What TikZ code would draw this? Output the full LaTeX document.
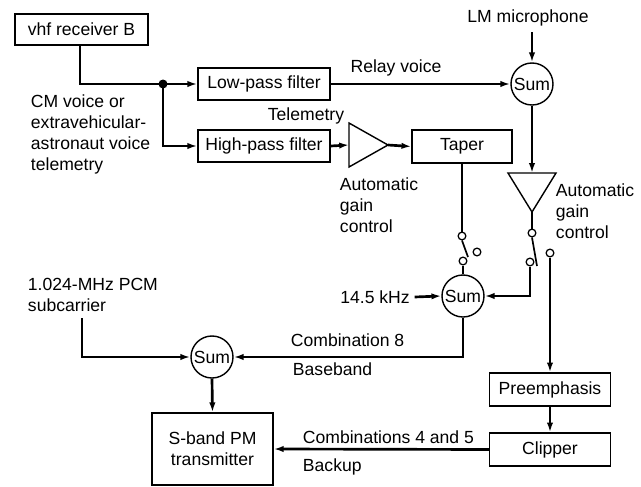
\documentclass[tikz,border=0pt]{standalone}
\usepackage{fontspec}
\setmainfont{Liberation Sans}
\usetikzlibrary{arrows.meta,calc}

\begin{document}
\begin{tikzpicture}[x=0.025cm,y=-0.025cm,font=\fontsize{12.5}{15}\selectfont,
  >={Latex[length=7pt,width=4.5pt]},
  block/.style={draw,line width=1pt,inner sep=0pt},
  sumnode/.style={draw,circle,line width=1pt,inner sep=0pt,minimum size=1.05cm},
  contact/.style={draw,circle,line width=0.9pt,fill=white,inner sep=0pt,minimum size=5.5pt},
  sig/.style={line width=1.9pt}]
  \useasboundingbox (0,0) rectangle (641,487);
  \node[block,minimum width=3.325cm,minimum height=0.78cm] (vhf) at (81.5,29.5) {vhf receiver B};
  \node[block,minimum width=3.3cm,minimum height=0.8cm] (low) at (264,84) {Low-pass filter};
  \node[block,minimum width=3.3cm,minimum height=0.8cm] (high) at (264,146) {High-pass filter};
  \node[block,minimum width=2.5cm,minimum height=0.82cm] (taper) at (462,146.5) {Taper};
  \node[block,minimum width=3.025cm,minimum height=0.82cm] (preemph) at (550,389.5) {Preemphasis};
  \node[block,minimum width=3.025cm,minimum height=0.82cm] (clipper) at (550,449.5) {Clipper};
  \node[block,minimum width=3.025cm,minimum height=1.8cm,align=center] (sband) at (212.5,449) {S-band PM\\transmitter};
  \node[sumnode] (sum1) at (532,84) {Sum};
  \node[sumnode] (sum2) at (463,296) {Sum};
  \node[sumnode] (sum3) at (212,357) {Sum};

  \fill (163,84) circle (4.5) coordinate (split);
  \coordinate (mic) at (532,32);
  \coordinate (pcm) at (82,318);

  % amplifiers
  \coordinate (amp1in) at (349,145);
  \coordinate (amp1out) at (388,145);
  \draw[line width=1pt] (amp1in) ++(0,-22) -- (amp1out) -- (349,167) -- cycle;
  \coordinate (amp2in) at (532,173);
  \coordinate (amp2out) at (532,212);
  \draw[line width=1pt] (amp2in) ++(-24,0) -- (amp2out) -- (556,173) -- cycle;

  % switches
  \node[contact] (swa1) at (462,236) {};
  \node[contact] (swa2) at (463,261) {};
  \node[contact] (swa3) at (477,252) {};
  \coordinate (bladea) at (468,257);
  \node[contact] (swb1) at (532,233) {};
  \node[contact] (swb2) at (530,262) {};
  \node[contact] (swb3) at (550,253) {};
  \coordinate (bladeb) at (537,266);
  \draw[line width=1.2pt] (swa1.south) -- (bladea);
  \draw[line width=1.2pt] (swb1.south) -- (bladeb);

  \draw[sig] (vhf.south -| 80,0) |- (split);
  \draw[sig,->] (split) -- (low.west);
  \draw[sig,->] (split) |- (high.west);
  \draw[sig,->] (low.east) -- (sum1.west);
  \draw[sig,->] (mic) -- (sum1.north);
  \draw[sig,->] (high.east) -- (amp1in);
  \draw[sig,->] (amp1out) -- (taper.west);
  \draw[sig,->] (sum1.south) -- (amp2in);
  \draw[sig] (amp2out) -- (swb1.north);
  \draw[sig] (taper.south) -- (swa1.north);
  \draw[sig] (swa2.south) -- (sum2.north);
  \draw[sig,->] (swb2.south) |- (sum2.east);
  \draw[sig,->] (swb3.south) -- (preemph.north);
  \draw[sig,->] (preemph.south) -- (clipper.north);
  \draw[sig,->] (clipper.west) -- (sband.east);
  \draw[sig,->] (sum2.south) |- (sum3.east);
  \draw[sig,->] (pcm) |- (sum3.west);
  \draw[sig,->] (sum3.south) -- (sband.north);

  \node (khz) at (375,297) {14.5 kHz};
  \draw[sig,->] (khz.east) -- (sum2.west);

  \node at (396,68) {Relay voice};
  \node at (306,116) {Telemetry};
  \node at (528,18) {LM microphone};
  \node[anchor=north west,align=left] at (26,90) {CM voice or\\extravehicular-\\astronaut voice\\telemetry};
  \node[anchor=north west,align=left] at (335,173) {Automatic\\gain\\control};
  \node[anchor=north west,align=left] at (551,179) {Automatic\\gain\\control};
  \node[anchor=north west,align=left] at (23,273) {1.024-MHz PCM\\subcarrier};
  \node[anchor=west] at (286,340) {Combination 8};
  \node[anchor=west] at (288,369) {Baseband};
  \node[anchor=west] at (298,437) {Combinations 4 and 5};
  \node[anchor=west] at (298,467) {Backup};
\end{tikzpicture}
\end{document}
